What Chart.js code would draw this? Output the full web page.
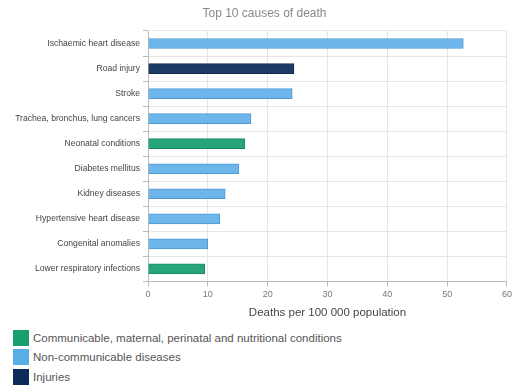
<!DOCTYPE html>
<html>
<head>
<meta charset="utf-8">
<script src="https://cdn.jsdelivr.net/npm/chart.js@4/dist/chart.umd.min.js"></script>
<style>
  body { margin: 0; background: #fff; font-family: Arial, "Liberation Sans", sans-serif; }
  .wrap { position: relative; width: 515px; height: 322px; }
  .title { position: absolute; left: 0; width: 529px; top: 6px; text-align: center; font-size: 12px; color: #888; }
  .legend { margin: 6px 0 0 13px; }
  .legend div { display: flex; align-items: center; height: 19.5px; font-size: 11.5px; color: #555; }
  .legend span { display: inline-block; width: 16px; height: 16px; margin-right: 4px; }
</style>
</head>
<body>
<div class="wrap">
  <div class="title">Top 10 causes of death</div>
  <canvas id="chart"></canvas>
</div>
<div class="legend" id="legend"></div>
<script>
const causes = ['Ischaemic heart disease', 'Road injury', 'Stroke', 'Trachea, bronchus, lung cancers',
  'Neonatal conditions', 'Diabetes mellitus', 'Kidney diseases', 'Hypertensive heart disease',
  'Congenital anomalies', 'Lower respiratory infections'];
const deaths = [52.7, 24.4, 24.1, 17.2, 16.2, 15.2, 12.9, 12.0, 10.0, 9.5];
const groupOf = [1, 2, 1, 1, 0, 1, 1, 1, 1, 0];
const groups = ['Communicable, maternal, perinatal and nutritional conditions', 'Non-communicable diseases', 'Injuries'];
const xTicks = [0, 10, 20, 30, 40, 50, 60];

const fill = ['#26a57a', '#6cb6ec', '#1d3b66'];
const edge = ['#1b8a63', '#4f98d2', '#132a4d'];
const legendColors = ['#17a06e', '#5aaee6', '#0c2a5a'];

const ctx = document.getElementById('chart').getContext('2d');
new Chart(ctx, {
  type: 'bar',
  data: {
    labels: causes,
    datasets: [{
      data: deaths,
      backgroundColor: groupOf.map(g => fill[g]),
      borderColor: groupOf.map(g => edge[g]),
      borderWidth: 1,
      barThickness: 10,
    }],
  },
  options: {
    indexAxis: 'y',
    responsive: true,
    maintainAspectRatio: false,
    animation: false,
    layout: { padding: { left: 0, right: 8, top: 31, bottom: 2 } },
    scales: {
      x: {
        min: 0,
        max: 60,
        afterBuildTicks: axis => { axis.ticks = xTicks.map(v => ({ value: v })); },
        grid: { color: '#e6e6e6', tickLength: 5, tickColor: '#bbb' },
        border: { color: '#bbb' },
        ticks: { color: '#777', font: { size: 9 }, padding: 3 },
        title: {
          display: true,
          text: 'Deaths per 100 000 population',
          color: '#444',
          font: { size: 11.5 },
          padding: { top: 3, bottom: 0 },
        },
      },
      y: {
        afterFit: axis => { axis.width = 148; },
        grid: { color: '#e6e6e6', tickLength: 5, tickColor: '#bbb' },
        border: { color: '#bbb' },
        ticks: { color: '#444', font: { size: 8.6 }, padding: 3 },
      },
    },
    plugins: {
      legend: { display: false },
      tooltip: { enabled: false },
    },
  },
});

document.getElementById('legend').innerHTML = groups
  .map((g, i) => `<div><span style="background:${legendColors[i]}"></span>${g}</div>`)
  .join('');
</script>
</body>
</html>
